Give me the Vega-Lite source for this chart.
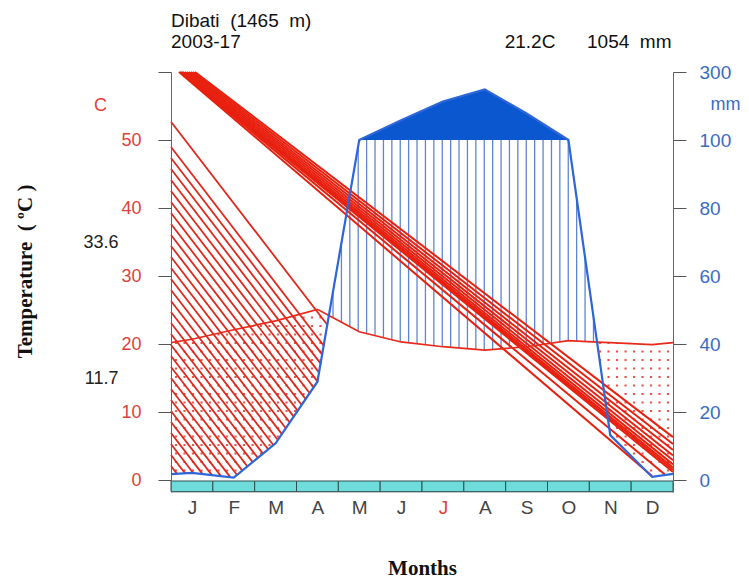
{
  "$schema": "https://vega.github.io/schema/vega-lite/v6.json",
  "width": 502,
  "height": 420,
  "autosize": "none",
  "padding": {"left": 171, "top": 72, "right": 76, "bottom": 88},
  "background": "white",
  "title": {
    "text": "Dibati\u00a0\u00a0(1465\u00a0\u00a0m)",
    "subtitle": "2003-17\u00a0\u00a0\u00a0\u00a0\u00a0\u00a0\u00a0\u00a0\u00a0\u00a0\u00a0\u00a0\u00a0\u00a0\u00a0\u00a0\u00a0\u00a0\u00a0\u00a0\u00a0\u00a0\u00a0\u00a0\u00a0\u00a0\u00a0\u00a0\u00a0\u00a0\u00a0\u00a0\u00a0\u00a0\u00a0\u00a0\u00a0\u00a0\u00a0\u00a0\u00a0\u00a0\u00a0\u00a0\u00a0\u00a0\u00a0\u00a0\u00a0\u00a021.2C\u00a0\u00a0\u00a0\u00a0\u00a0\u00a01054\u00a0\u00a0mm",
    "anchor": "start",
    "frame": "group",
    "font": "Liberation Sans",
    "fontSize": 19,
    "fontWeight": "normal",
    "color": "#111",
    "subtitleFont": "Liberation Sans",
    "subtitleFontSize": 19,
    "subtitleColor": "#111",
    "subtitlePadding": 2,
    "offset": 11
  },
  "datasets": {
    "temp": [
      {"m": 0.5, "t": 20.2}, {"m": 1, "t": 20.7}, {"m": 2, "t": 22.1}, {"m": 3, "t": 23.4},
      {"m": 4, "t": 25.1}, {"m": 4.274, "t": 24.2}, {"m": 5, "t": 21.8}, {"m": 6, "t": 20.3},
      {"m": 7, "t": 19.6}, {"m": 8, "t": 19.1}, {"m": 9, "t": 19.6}, {"m": 10, "t": 20.5},
      {"m": 10.684, "t": 20.29}, {"m": 11, "t": 20.2}, {"m": 12, "t": 19.9}, {"m": 12.5, "t": 20.2}
    ],
    "prec": [
      {"m": 0.5, "p": 1.7}, {"m": 1, "p": 2.1}, {"m": 2, "p": 0.7}, {"m": 3, "p": 10.8},
      {"m": 4, "p": 28.9}, {"m": 4.274, "p": 48.4}, {"m": 5, "p": 100}, {"m": 6, "p": 158},
      {"m": 7, "p": 213}, {"m": 8, "p": 249}, {"m": 9, "p": 178}, {"m": 10, "p": 100},
      {"m": 10.684, "p": 40.6}, {"m": 11, "p": 13.2}, {"m": 12, "p": 0.9}, {"m": 12.5, "p": 1.8}
    ],
    "dotsL": [
      {"m": 0.62}, {"m": 0.823}, {"m": 1.026}, {"m": 1.23}, {"m": 1.433}, {"m": 1.636},
      {"m": 1.839}, {"m": 2.042}, {"m": 2.246}, {"m": 2.449}, {"m": 2.652}, {"m": 2.855},
      {"m": 3.058}, {"m": 3.262}, {"m": 3.465}, {"m": 3.668}, {"m": 3.871}, {"m": 4.074}
    ],
    "dotsR": [
      {"m": 10.756}, {"m": 10.959}, {"m": 11.162}, {"m": 11.366}, {"m": 11.569},
      {"m": 11.772}, {"m": 11.975}, {"m": 12.178}, {"m": 12.382}
    ],
    "hum": [
      {"m": 4.373}, {"m": 4.574}, {"m": 4.775}, {"m": 4.975}, {"m": 5.176}, {"m": 5.377},
      {"m": 5.578}, {"m": 5.779}, {"m": 5.98}, {"m": 6.18}, {"m": 6.381}, {"m": 6.582},
      {"m": 6.783}, {"m": 6.984}, {"m": 7.185}, {"m": 7.385}, {"m": 7.586}, {"m": 7.787},
      {"m": 7.988}, {"m": 8.189}, {"m": 8.39}, {"m": 8.59}, {"m": 8.791}, {"m": 8.992},
      {"m": 9.193}, {"m": 9.394}, {"m": 9.595}, {"m": 9.795}, {"m": 9.996}, {"m": 10.197},
      {"m": 10.398}, {"m": 10.599}
    ],
    "hatchL": [
      {"x1": 0.5, "t1": 52.69, "x2": 4.249, "t2": 22.72},
      {"x1": 0.5, "t1": 48.97, "x2": 4.162, "t2": 19.68},
      {"x1": 0.5, "t1": 47.35, "x2": 4.124, "t2": 18.37},
      {"x1": 0.5, "t1": 45.74, "x2": 4.088, "t2": 17.04},
      {"x1": 0.5, "t1": 44.12, "x2": 4.05, "t2": 15.72},
      {"x1": 0.5, "t1": 42.5, "x2": 4.01, "t2": 14.43},
      {"x1": 0.5, "t1": 40.88, "x2": 3.916, "t2": 13.57},
      {"x1": 0.5, "t1": 39.26, "x2": 3.821, "t2": 12.71},
      {"x1": 0.5, "t1": 37.65, "x2": 3.725, "t2": 11.85},
      {"x1": 0.5, "t1": 36.03, "x2": 3.63, "t2": 11.0},
      {"x1": 0.5, "t1": 34.41, "x2": 3.536, "t2": 10.13},
      {"x1": 0.5, "t1": 32.79, "x2": 3.44, "t2": 9.28},
      {"x1": 0.5, "t1": 31.18, "x2": 3.345, "t2": 8.43},
      {"x1": 0.5, "t1": 29.56, "x2": 3.249, "t2": 7.57},
      {"x1": 0.5, "t1": 27.94, "x2": 3.156, "t2": 6.71},
      {"x1": 0.5, "t1": 26.32, "x2": 3.06, "t2": 5.85},
      {"x1": 0.5, "t1": 24.71, "x2": 2.95, "t2": 5.1},
      {"x1": 0.5, "t1": 23.09, "x2": 2.826, "t2": 4.49},
      {"x1": 0.5, "t1": 21.47, "x2": 2.699, "t2": 3.88},
      {"x1": 0.5, "t1": 19.85, "x2": 2.575, "t2": 3.26},
      {"x1": 0.5, "t1": 18.24, "x2": 2.451, "t2": 2.63},
      {"x1": 0.5, "t1": 16.62, "x2": 2.324, "t2": 2.03},
      {"x1": 0.5, "t1": 15.0, "x2": 2.2, "t2": 1.41},
      {"x1": 0.5, "t1": 13.38, "x2": 2.075, "t2": 0.78},
      {"x1": 0.5, "t1": 11.76, "x2": 1.922, "t2": 0.38},
      {"x1": 0.5, "t1": 10.15, "x2": 1.7, "t2": 0.54},
      {"x1": 0.5, "t1": 8.53, "x2": 1.478, "t2": 0.71},
      {"x1": 0.5, "t1": 6.91, "x2": 1.255, "t2": 0.87},
      {"x1": 0.5, "t1": 5.29, "x2": 1.031, "t2": 1.04},
      {"x1": 0.5, "t1": 3.68, "x2": 0.835, "t2": 1.0},
      {"x1": 0.5, "t1": 2.06, "x2": 0.644, "t2": 0.91}
    ],
    "hatchR": [
      {"x1": 0.691, "t1": 60, "x2": 12.0, "t2": 0.6},
      {"x1": 0.715, "t1": 60, "x2": 12.3, "t2": 0.85},
      {"x1": 0.739, "t1": 60, "x2": 12.5, "t2": 1.18},
      {"x1": 0.763, "t1": 60, "x2": 12.5, "t2": 1.5},
      {"x1": 0.787, "t1": 60, "x2": 12.5, "t2": 1.85},
      {"x1": 0.835, "t1": 60, "x2": 12.5, "t2": 2.3},
      {"x1": 0.883, "t1": 60, "x2": 12.5, "t2": 2.9},
      {"x1": 0.93, "t1": 60, "x2": 12.5, "t2": 3.6},
      {"x1": 0.978, "t1": 60, "x2": 12.5, "t2": 4.4},
      {"x1": 1.026, "t1": 60, "x2": 12.5, "t2": 5.3},
      {"x1": 1.074, "t1": 60, "x2": 12.5, "t2": 6.3}
    ],
    "band": [
      {"a": 0.5, "b": 1.5}, {"a": 1.5, "b": 2.5}, {"a": 2.5, "b": 3.5}, {"a": 3.5, "b": 4.5},
      {"a": 4.5, "b": 5.5}, {"a": 5.5, "b": 6.5}, {"a": 6.5, "b": 7.5}, {"a": 7.5, "b": 8.5},
      {"a": 8.5, "b": 9.5}, {"a": 9.5, "b": 10.5}, {"a": 10.5, "b": 11.5}, {"a": 11.5, "b": 12.5}
    ]
  },
  "resolve": {"scale": {"y": "independent"}},
  "layer": [
    {
      "data": {"name": "dotsL"},
      "mark": {"type": "rule", "color": "#e23a2e", "strokeWidth": 2.2, "strokeDash": [2, 6.5], "opacity": 0.85},
      "encoding": {
        "x": {"field": "m", "type": "quantitative", "title": "Months", "scale": {"domain": [0.5, 12.5], "nice": false, "zero": false}},
        "y": {"datum": 0, "type": "quantitative", "scale": {"domain": [-1.8, 0, 50, 60], "range": [420, 408, 68, 0], "nice": false, "zero": false}, "axis": null},
        "y2": {"datum": 27}
      }
    },
    {
      "data": {"name": "dotsR"},
      "mark": {"type": "rule", "color": "#e23a2e", "strokeWidth": 2.2, "strokeDash": [2, 6.5], "opacity": 0.85},
      "encoding": {
        "x": {"field": "m", "type": "quantitative", "title": "Months"},
        "y": {"datum": 0, "type": "quantitative", "scale": {"domain": [-1.8, 0, 50, 60], "range": [420, 408, 68, 0], "nice": false, "zero": false}, "axis": null},
        "y2": {"datum": 23}
      }
    },
    {
      "data": {"name": "hum"},
      "mark": {"type": "rule", "color": "#5f86d0", "strokeWidth": 1.3},
      "encoding": {
        "x": {"field": "m", "type": "quantitative", "title": "Months"},
        "y": {"datum": 15, "type": "quantitative", "scale": {"domain": [-1.8, 0, 50, 60], "range": [420, 408, 68, 0], "nice": false, "zero": false}, "axis": null},
        "y2": {"datum": 50}
      }
    },
    {
      "data": {"name": "temp"},
      "transform": [{"filter": "datum.m <= 4.28"}],
      "mark": {"type": "area", "fill": "white"},
      "encoding": {
        "x": {"field": "m", "type": "quantitative", "title": "Months"},
        "y": {"field": "t", "type": "quantitative", "scale": {"domain": [-1.8, 0, 50, 60], "range": [420, 408, 68, 0], "nice": false, "zero": false}, "axis": null},
        "y2": {"datum": 60}
      }
    },
    {
      "data": {"name": "temp"},
      "transform": [{"filter": "datum.m >= 10.68"}],
      "mark": {"type": "area", "fill": "white"},
      "encoding": {
        "x": {"field": "m", "type": "quantitative", "title": "Months"},
        "y": {"field": "t", "type": "quantitative", "scale": {"domain": [-1.8, 0, 50, 60], "range": [420, 408, 68, 0], "nice": false, "zero": false}, "axis": null},
        "y2": {"datum": 60}
      }
    },
    {
      "data": {"name": "prec"},
      "transform": [{"filter": "datum.m <= 4.28"}],
      "mark": {"type": "area", "fill": "white"},
      "encoding": {
        "x": {"field": "m", "type": "quantitative", "title": "Months"},
        "y": {"field": "p", "type": "quantitative", "scale": {"domain": [-3.6, 0, 100, 300], "range": [420, 408, 68, 0], "nice": false, "zero": false}, "axis": null},
        "y2": {"datum": 0}
      }
    },
    {
      "data": {"name": "prec"},
      "transform": [{"filter": "datum.m >= 10.68"}],
      "mark": {"type": "area", "fill": "white"},
      "encoding": {
        "x": {"field": "m", "type": "quantitative", "title": "Months"},
        "y": {"field": "p", "type": "quantitative", "scale": {"domain": [-3.6, 0, 100, 300], "range": [420, 408, 68, 0], "nice": false, "zero": false}, "axis": null},
        "y2": {"datum": 0}
      }
    },
    {
      "data": {"name": "temp"},
      "transform": [{"filter": "datum.m >= 4.27 && datum.m <= 10.69"}],
      "mark": {"type": "area", "fill": "white"},
      "encoding": {
        "x": {"field": "m", "type": "quantitative", "title": "Months"},
        "y": {"field": "t", "type": "quantitative", "scale": {"domain": [-1.8, 0, 50, 60], "range": [420, 408, 68, 0], "nice": false, "zero": false}, "axis": null},
        "y2": {"datum": 0}
      }
    },
    {
      "data": {"name": "prec"},
      "transform": [{"filter": "datum.m >= 4.27 && datum.m <= 10.69"}],
      "mark": {"type": "area", "fill": "white"},
      "encoding": {
        "x": {"field": "m", "type": "quantitative", "title": "Months"},
        "y": {"field": "p", "type": "quantitative", "scale": {"domain": [-3.6, 0, 100, 300], "range": [420, 408, 68, 0], "nice": false, "zero": false}, "axis": null},
        "y2": {"datum": 300}
      }
    },
    {
      "data": {"name": "prec"},
      "transform": [{"filter": "datum.m >= 5 && datum.m <= 10"}],
      "mark": {"type": "area", "fill": "#0b57cf"},
      "encoding": {
        "x": {"field": "m", "type": "quantitative", "title": "Months"},
        "y": {"field": "p", "type": "quantitative", "scale": {"domain": [-3.6, 0, 100, 300], "range": [420, 408, 68, 0], "nice": false, "zero": false}, "axis": null},
        "y2": {"datum": 100}
      }
    },
    {
      "data": {"name": "hatchL"},
      "mark": {"type": "rule", "color": "#e0281c", "strokeWidth": 1.8},
      "encoding": {
        "x": {"field": "x1", "type": "quantitative", "title": "Months"},
        "x2": {"field": "x2"},
        "y": {"field": "t1", "type": "quantitative", "scale": {"domain": [-1.8, 0, 50, 60], "range": [420, 408, 68, 0], "nice": false, "zero": false}, "axis": null},
        "y2": {"field": "t2"}
      }
    },
    {
      "data": {"name": "hatchR"},
      "mark": {"type": "rule", "color": "#e8200f", "strokeWidth": 2},
      "encoding": {
        "x": {"field": "x1", "type": "quantitative", "title": "Months"},
        "x2": {"field": "x2"},
        "y": {"field": "t1", "type": "quantitative", "scale": {"domain": [-1.8, 0, 50, 60], "range": [420, 408, 68, 0], "nice": false, "zero": false}, "axis": null},
        "y2": {"field": "t2"}
      }
    },
    {
      "mark": {"type": "rule", "color": "#333", "strokeWidth": 1.2},
      "encoding": {
        "x": {"datum": 0.5, "type": "quantitative"},
        "x2": {"datum": 12.5},
        "y": {"datum": 50, "type": "quantitative", "scale": {"domain": [-1.8, 0, 50, 60], "range": [420, 408, 68, 0], "nice": false, "zero": false},
          "axis": {"orient": "left", "values": [15, 35], "labelExpr": "datum.value == 35 ? '33.6' : '11.7'", "domain": false, "ticks": false, "grid": false, "labelPadding": 53, "labelColor": "#222", "labelFont": "Liberation Sans", "labelFontSize": 18, "title": "C", "titleAngle": 0, "titleX": -71, "titleY": 33, "titleAlign": "center", "titleBaseline": "middle", "titleColor": "#e0413a", "titleFont": "Liberation Sans", "titleFontWeight": "normal", "titleFontSize": 18, "zindex": 1}
        }
      }
    },
    {
      "data": {"name": "temp"},
      "mark": {"type": "line", "color": "#e8291c", "strokeWidth": 1.7},
      "encoding": {
        "x": {"field": "m", "type": "quantitative", "title": "Months"},
        "y": {"field": "t", "type": "quantitative", "scale": {"domain": [-1.8, 0, 50, 60], "range": [420, 408, 68, 0], "nice": false, "zero": false},
          "axis": {"orient": "left", "values": [0, 10, 20, 30, 40, 50, 60], "labelExpr": "datum.value == 60 ? '' : datum.label", "grid": false, "domainColor": "#666", "tickColor": "#555", "tickSize": 13, "labelPadding": 17, "labelColor": "#e0413a", "labelFont": "Liberation Sans", "labelFontSize": 18, "title": "Temperature\u00a0\u00a0( \u00baC )", "titleFont": "Liberation Serif", "titleFontWeight": "bold", "titleFontSize": 21, "titleColor": "#111", "titleAngle": -90, "titleX": -146, "titleY": 199, "titleAlign": "center", "titleBaseline": "middle", "zindex": 1}
        }
      }
    },
    {
      "data": {"name": "prec"},
      "mark": {"type": "line", "color": "#2d66d6", "strokeWidth": 2.2},
      "encoding": {
        "x": {"field": "m", "type": "quantitative", "title": "Months"},
        "y": {"field": "p", "type": "quantitative", "scale": {"domain": [-3.6, 0, 100, 300], "range": [420, 408, 68, 0], "nice": false, "zero": false},
          "axis": {"orient": "right", "values": [0, 20, 40, 60, 80, 100, 300], "grid": false, "domainColor": "#666", "tickColor": "#555", "tickSize": 13, "labelPadding": 13, "labelColor": "#3a6cc4", "labelFont": "Liberation Sans", "labelFontSize": 19, "title": "mm", "titleAngle": 0, "titleX": 52, "titleY": 32, "titleAlign": "center", "titleBaseline": "middle", "titleColor": "#3a6cc4", "titleFont": "Liberation Sans", "titleFontWeight": "normal", "titleFontSize": 18, "zindex": 1}
        }
      }
    },
    {
      "data": {"name": "band"},
      "mark": {"type": "rect", "fill": "#6fdcdc", "stroke": "#2f4f4f", "strokeWidth": 1},
      "encoding": {
        "x": {"field": "a", "type": "quantitative", "title": "Months",
          "axis": {"values": [1, 2, 3, 4, 5, 6, 7, 8, 9, 10, 11, 12], "labelExpr": "['J','F','M','A','M','J','J','A','S','O','N','D'][datum.value - 1]", "domain": false, "ticks": false, "grid": false, "labelPadding": 6, "labelFont": "Liberation Sans", "labelFontSize": 19, "labelColor": {"condition": {"test": "datum.value == 7", "value": "#e0413a"}, "value": "#444"}, "title": "Months", "titleFont": "Liberation Serif", "titleFontWeight": "bold", "titleFontSize": 21, "titleColor": "#111", "titlePadding": 40}
        },
        "x2": {"field": "b"},
        "y": {"datum": -0.15, "type": "quantitative", "scale": {"domain": [-1.8, 0, 50, 60], "range": [420, 408, 68, 0], "nice": false, "zero": false}, "axis": null},
        "y2": {"datum": -1.75}
      }
    }
  ]
}
